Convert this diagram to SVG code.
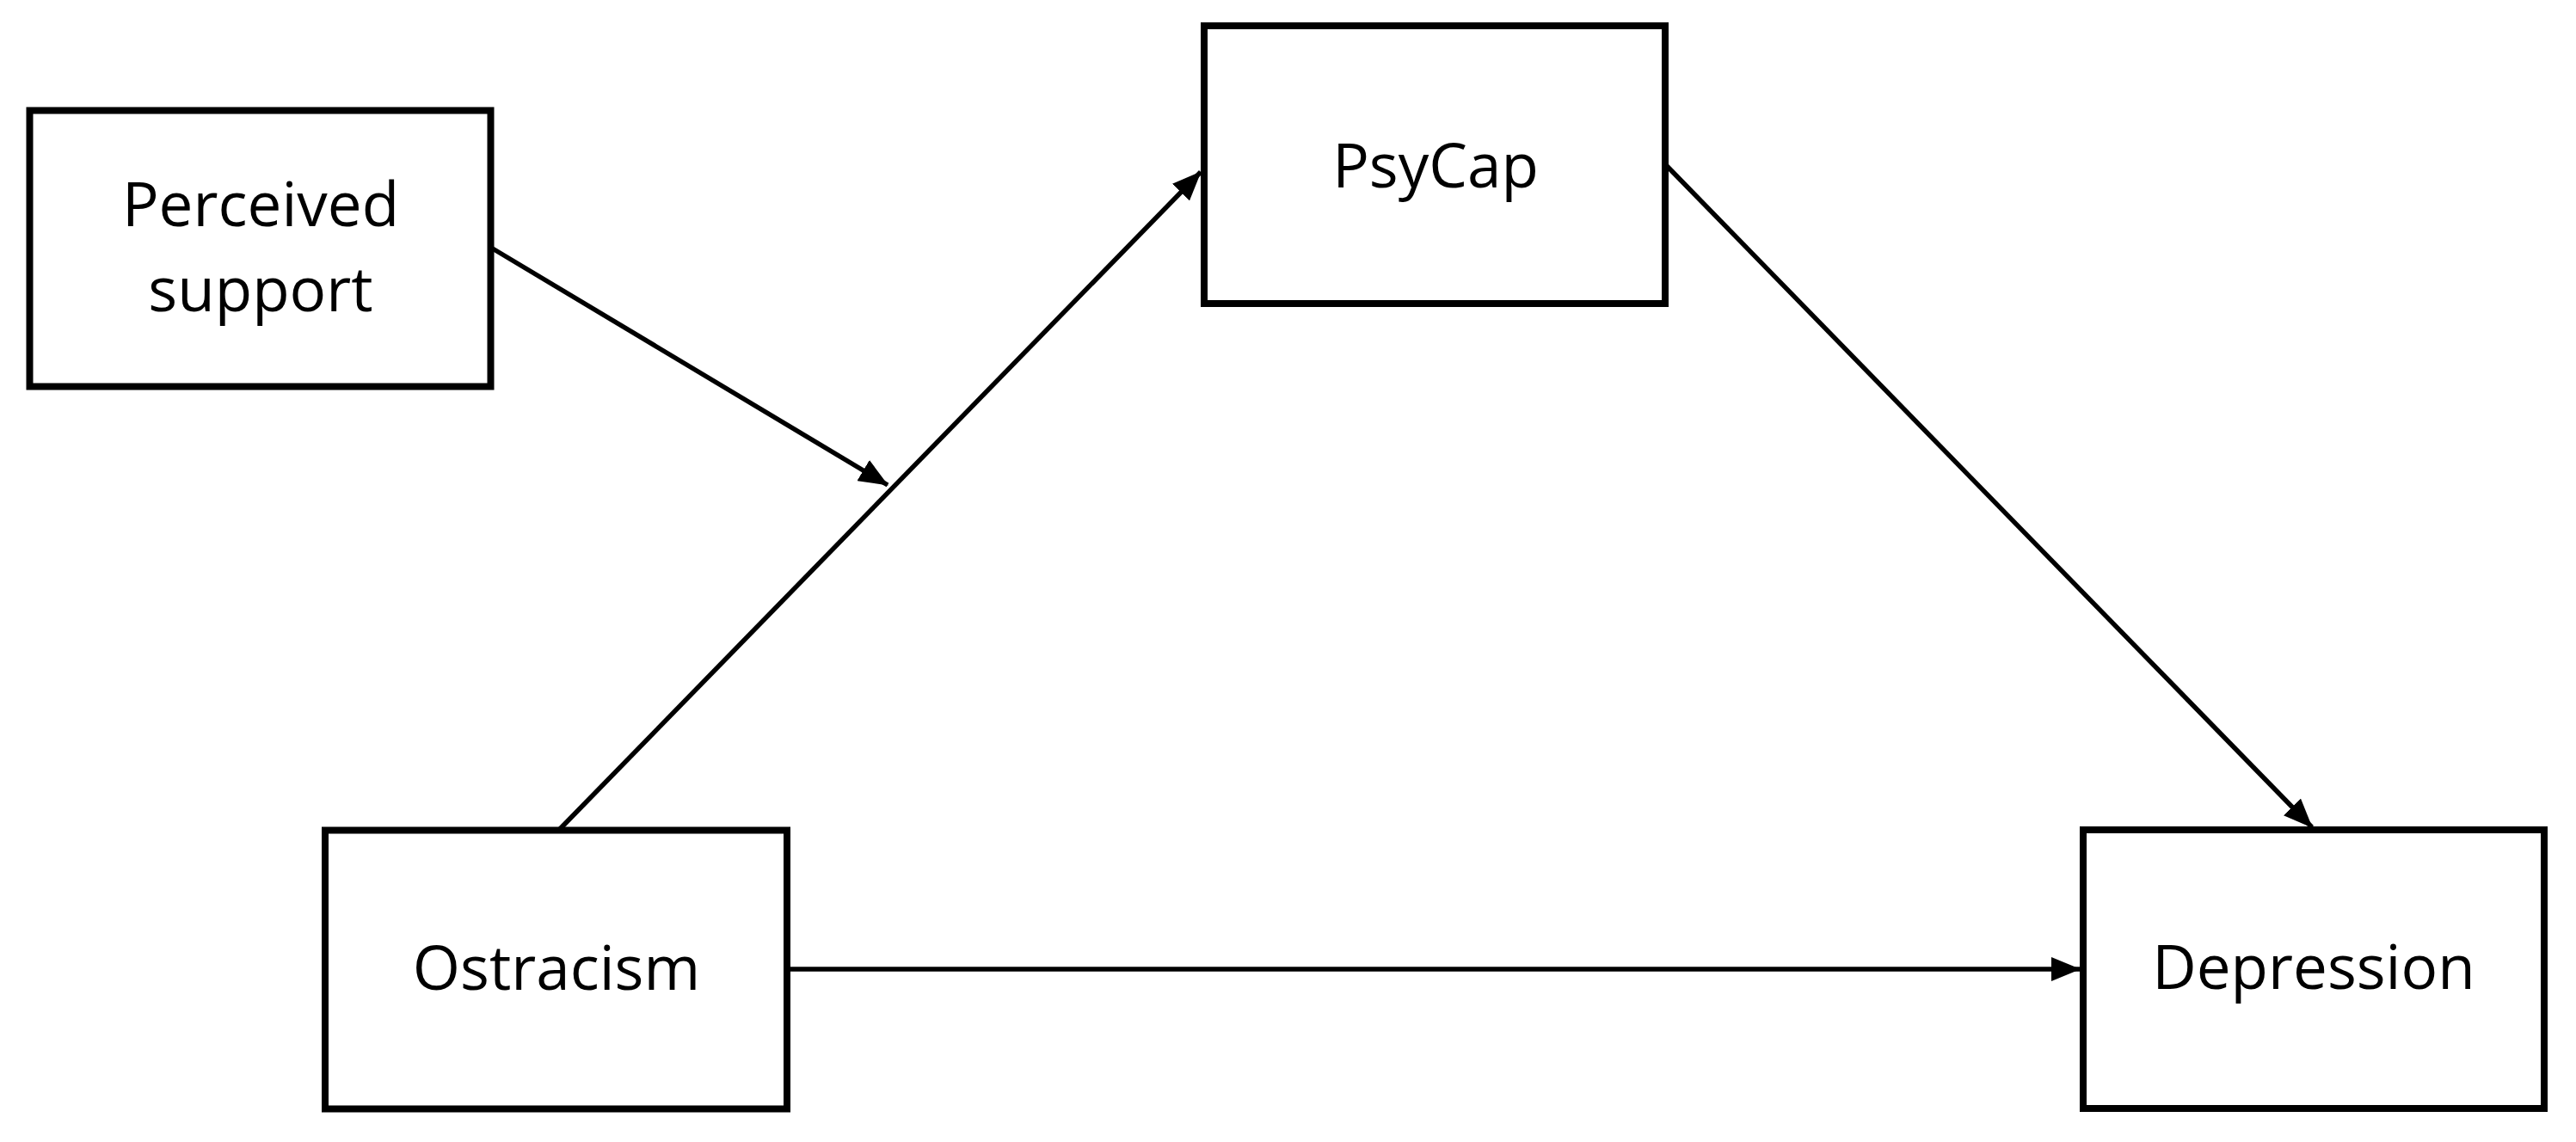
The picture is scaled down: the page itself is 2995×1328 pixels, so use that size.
<svg xmlns="http://www.w3.org/2000/svg" width="2995" height="1328" viewBox="0 0 2995 1328">
<style>
.box{fill:#fff;stroke:#000;stroke-width:8}
.lbl{font-family:"Open Sans","Noto Sans","Liberation Sans",sans-serif;font-size:71px;fill:#000;text-anchor:middle}
.edge{stroke:#000;stroke-width:5.5;fill:none;marker-end:url(#arr)}
</style>
<defs>
<marker id="arr" markerUnits="userSpaceOnUse" markerWidth="34" markerHeight="28" refX="33" refY="14" orient="auto">
<path d="M0,0 L34,14 L0,28 z" fill="#000"/>
</marker>
</defs>
<rect width="2995" height="1328" fill="#fff"/>
<g id="connectors">
<line class="edge" x1="650" y1="965" x2="1396" y2="200"/>
<line class="edge" x1="571" y1="288" x2="1032" y2="564"/>
<line class="edge" x1="1938" y1="193" x2="2688" y2="962"/>
<line class="edge" x1="918" y1="1127" x2="2418" y2="1127"/>
</g>
<g id="node-perceived">
<rect class="box" x="34.5" y="128.5" width="536" height="321"/>
<text class="lbl" x="303" y="263">Perceived</text>
<text class="lbl" x="303" y="362">support</text>
</g>
<g id="node-psycap">
<rect class="box" x="1400" y="30" width="536" height="323"/>
<text class="lbl" x="1669" y="218">PsyCap</text>
</g>
<g id="node-ostracism">
<rect class="box" x="378" y="965.5" width="537" height="324"/>
<text class="lbl" x="647" y="1151">Ostracism</text>
</g>
<g id="node-depression">
<rect class="box" x="2422" y="965" width="536" height="324"/>
<text class="lbl" x="2690" y="1150">Depression</text>
</g>
</svg>
